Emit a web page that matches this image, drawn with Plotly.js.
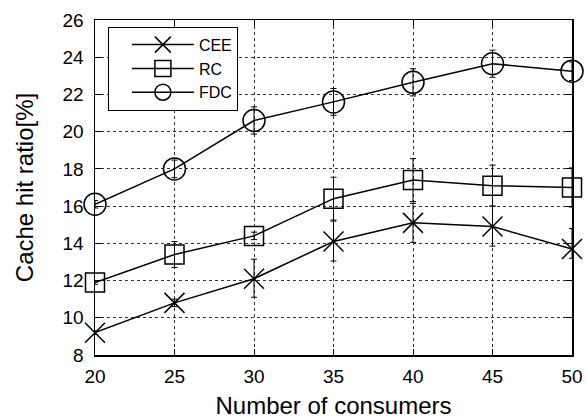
<!DOCTYPE html>
<html>
<head>
<meta charset="utf-8">
<script src="https://cdn.plot.ly/plotly-3.0.1.min.js"></script>
<style>html,body{margin:0;padding:0;background:#fff;}#chart{width:587px;height:419px;}</style>
</head>
<body>
<div id="chart"></div>
<script>
const consumers = [20, 25, 30, 35, 40, 45, 50];
const ceeValues = [9.2, 10.8, 12.1, 14.1, 15.1, 14.9, 13.7];
const ceeErrPlus = [0.1, 0.2, 1.05, 1.1, 1.05, 1.1, 1.1];
const ceeErrMinus = [0.1, 0.2, 1.0, 1.05, 1.05, 1.05, 0.5];
const rcValues = [11.9, 13.4, 14.4, 16.4, 17.4, 17.1, 17.0];
const rcErr = [0.1, 0.7, 0.2, 1.15, 1.15, 1.1, 1.05];
const fdcValues = [16.1, 18.0, 20.6, 21.6, 22.65, 23.65, 23.25];
const fdcErr = [0.2, 0.47, 0.73, 0.72, 0.73, 0.73, 0.5];
const yTicks = [8, 10, 12, 14, 16, 18, 20, 22, 24, 26];
const xTicks = [20, 25, 30, 35, 40, 45, 50];

const font = 'Liberation Sans, Arial, Helvetica, sans-serif';
function errBar(plus, minus) {
  const e = {type: 'data', array: plus, visible: true, color: '#000', thickness: 1, width: 3};
  if (minus) { e.symmetric = false; e.arrayminus = minus; }
  return e;
}
const traces = [
  {x: consumers, y: ceeValues, name: 'CEE', mode: 'lines+markers', cliponaxis: false,
   line: {color: '#000', width: 1.5},
   marker: {symbol: 'x-thin-open', size: 20, color: '#000', line: {color: '#000', width: 1.5}},
   error_y: errBar(ceeErrPlus, ceeErrMinus)},
  {x: consumers, y: rcValues, name: 'RC', mode: 'lines+markers', cliponaxis: false,
   line: {color: '#000', width: 1.5},
   marker: {symbol: 'square-open', size: 19, color: '#000', line: {color: '#000', width: 1.5}},
   error_y: errBar(rcErr)},
  {x: consumers, y: fdcValues, name: 'FDC', mode: 'lines+markers', cliponaxis: false,
   line: {color: '#000', width: 1.5},
   marker: {symbol: 'circle-open', size: 22, color: '#000', line: {color: '#000', width: 1.5}},
   error_y: errBar(fdcErr)}
];
const layout = {
  width: 587, height: 419,
  margin: {l: 95, r: 15, t: 20, b: 64},
  paper_bgcolor: '#fff', plot_bgcolor: '#fff',
  font: {family: font, color: '#000', size: 19},
  showlegend: true,
  legend: {x: 0.027, y: 0.98, xanchor: 'left', yanchor: 'top',
    bordercolor: '#000', borderwidth: 1, bgcolor: '#fff',
    indentation: 18, itemwidth: 62,
    font: {family: font, size: 16, color: '#000'}, tracegroupgap: 0},
  xaxis: {range: [20, 50], tickvals: xTicks, ticktext: xTicks.map(String),
    showgrid: true, gridcolor: '#333', griddash: 'dot', gridwidth: 1,
    showline: true, linecolor: '#000', linewidth: 1.5, mirror: 'ticks',
    ticks: 'inside', ticklen: 6, tickcolor: '#000', zeroline: false,
    ticklabelstandoff: 4, automargin: false,
    tickfont: {family: font, size: 19, color: '#000'},
    title: {text: 'Number of consumers', font: {family: font, size: 24, color: '#000'}, standoff: 11}},
  yaxis: {range: [8, 26], tickvals: yTicks, ticktext: yTicks.map(String),
    showgrid: true, gridcolor: '#333', griddash: 'dot', gridwidth: 1,
    showline: true, linecolor: '#000', linewidth: 1.5, mirror: 'ticks',
    ticks: 'inside', ticklen: 6, tickcolor: '#000', zeroline: false,
    ticklabelstandoff: 6, automargin: false,
    tickfont: {family: font, size: 19, color: '#000'},
    title: {text: 'Cache hit ratio[%]', font: {family: font, size: 24, color: '#000'}, standoff: 22}}
};
Plotly.newPlot('chart', traces, layout, {displayModeBar: false, staticPlot: true});
</script>
</body>
</html>
